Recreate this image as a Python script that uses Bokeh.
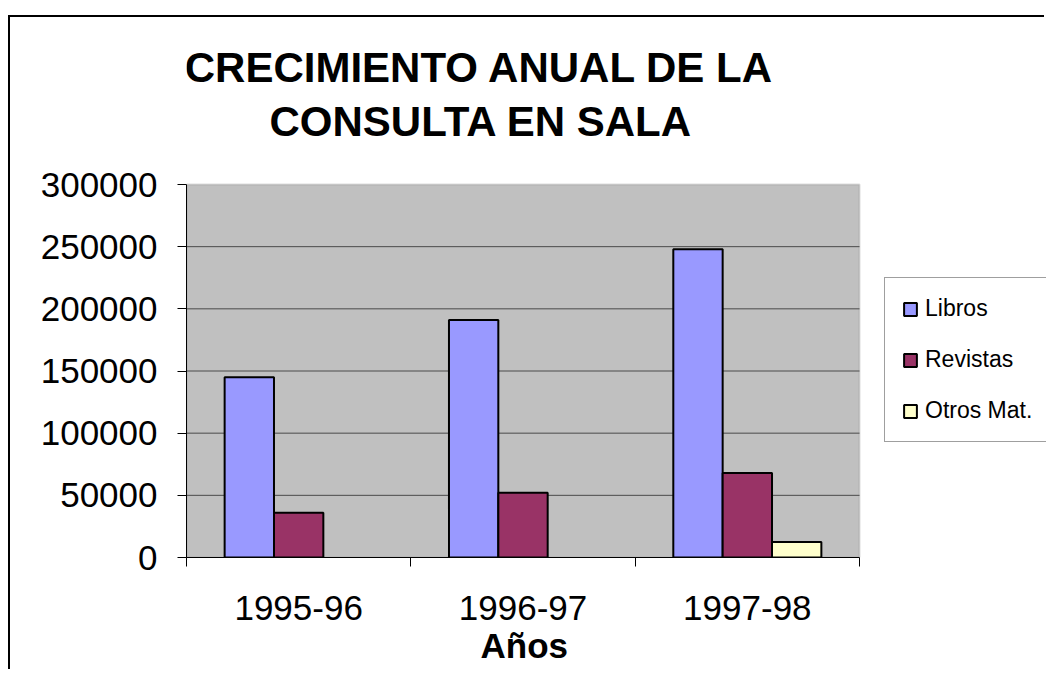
import numpy as np
from bokeh.plotting import figure
from bokeh.models import (ColumnDataSource, Range1d, FixedTicker, Title, BoxAnnotation, Label,
                          NumeralTickFormatter, Legend, LegendItem)
from bokeh.transform import dodge
from bokeh.embed import file_html
from bokeh.resources import INLINE

# ---- data ----
years = ["1995-96", "1996-97", "1997-98"]
libros = [145000, 191000, 248000]
revistas = [36000, 52000, 68000]
otros = [None, None, 12500]
series_names = ["Libros", "Revistas", "Otros Mat."]
series_colors = ["#9999FF", "#993366", "#FFFFCC"]
y_ticks = [0, 50000, 100000, 150000, 200000, 250000, 300000]
title_lines = ["CRECIMIENTO ANUAL DE LA", "CONSULTA EN SALA"]
x_title = "Años"

FONT = "Liberation Sans"


def arr(v):
    return np.array([np.nan if x is None else x for x in v], dtype=float)


n = len(years)
centres = np.arange(n) + 0.5  # category slot centres on a 0..n axis
src = ColumnDataSource(dict(year=years, xc=centres, libros=arr(libros),
                            revistas=arr(revistas), otros=arr(otros)))

# canvas starts at page (10, 17); grey plotting area at page x 186..859, y 184..557.
# The frame continues right and up so that legend and title are not clipped.
W, H = 1036, 654
PLOT_W, PLOT_H = 859 - 186, 557 - 184
FRAME_W, FRAME_H = W - 176, 557 - 17
p = figure(width=W, height=H, title=None,
           x_range=Range1d(0, n * FRAME_W / PLOT_W),
           y_range=Range1d(y_ticks[0], y_ticks[-1] * FRAME_H / PLOT_H),
           output_backend="svg", toolbar_location=None,
           min_border_left=176, min_border_right=0,
           min_border_top=0, min_border_bottom=H - FRAME_H)
p.margin = (17, 0, 0, 10)
p.styles = {"box-shadow": "-2px -2px 0px 0px #000000"}

p.background_fill_color = "white"
p.border_fill_color = "white"
p.outline_line_color = None
p.xgrid.visible = False
p.ygrid.visible = False

# grey plotting area with its light border
p.add_layout(BoxAnnotation(left=0, right=n, bottom=y_ticks[0], top=y_ticks[-1], level="image",
                           fill_color="#C0C0C0", fill_alpha=1,
                           line_color="#909090", line_width=2))

# horizontal grid lines across the plotting area
grid_y = y_ticks[1:-1]
p.segment(x0=[0] * len(grid_y), x1=[n] * len(grid_y), y0=grid_y, y1=grid_y,
          line_color="#4a4a4a", line_width=1)

bar_w = 0.22
offsets = [-bar_w, 0.0, bar_w]
cols = ["libros", "revistas", "otros"]
renderers = []
for col, color, off in zip(cols, series_colors, offsets):
    r = p.vbar(x=dodge("xc", off), top=col, width=bar_w, source=src,
               fill_color=color, line_color="black", line_width=2)
    renderers.append(r)

# y axis
yax = p.yaxis[0]
yax.bounds = (y_ticks[0], y_ticks[-1])
yax.ticker = FixedTicker(ticks=y_ticks)
yax.formatter = NumeralTickFormatter(format="0")
yax.major_label_text_font = FONT
yax.major_label_text_font_size = "35px"
yax.major_label_text_color = "black"
yax.major_tick_out = 9
yax.major_tick_in = 0
yax.minor_tick_line_color = None
yax.major_label_standoff = 20
yax.axis_line_color = "black"
yax.axis_line_width = 1
yax.major_tick_line_color = "black"

# x axis: labels at category centres, ticks at category edges
xax = p.xaxis[0]
xax.bounds = (0, n)
xax.ticker = FixedTicker(ticks=list(centres), minor_ticks=list(range(n + 1)))
xax.major_label_overrides = {float(c): y for c, y in zip(centres, years)}
xax.major_tick_line_color = None
xax.major_tick_out = 0
xax.major_tick_in = 0
xax.minor_tick_out = 9
xax.minor_tick_in = 0
xax.minor_tick_line_color = "black"
xax.axis_line_color = "black"
xax.axis_line_width = 1
xax.major_label_text_font = FONT
xax.major_label_text_font_size = "35px"
xax.major_label_text_color = "black"
xax.major_label_standoff = 29

# x axis title under the category labels
p.add_layout(Title(text=x_title, align="left", offset=294, standoff=2,
                   text_font=FONT, text_font_style="bold", text_font_size="35px",
                   text_color="black"), "below")

# two-line chart title (screen units from the frame's lower-left corner)
for text, tx, ty in [(title_lines[0], 293, 490), (title_lines[1], 294.5, 436)]:
    p.add_layout(Label(x=tx, y=ty, x_units="screen", y_units="screen", text=text,
                       text_align="center", text_baseline="alphabetic", text_font=FONT,
                       text_font_style="bold", text_font_size="42px", text_color="black"))

legend = Legend(items=[LegendItem(label=nm, renderers=[r]) for nm, r in zip(series_names, renderers)],
                location=(698, 115), padding=17, spacing=24, glyph_width=16, glyph_height=16,
                label_standoff=7, label_height=16, label_text_font=FONT,
                label_text_font_size="23px", label_text_color="black",
                border_line_color="#404040", border_line_width=1,
                background_fill_color="white", background_fill_alpha=1)
p.add_layout(legend)

open("out.html", "w").write(file_html(p, INLINE))
